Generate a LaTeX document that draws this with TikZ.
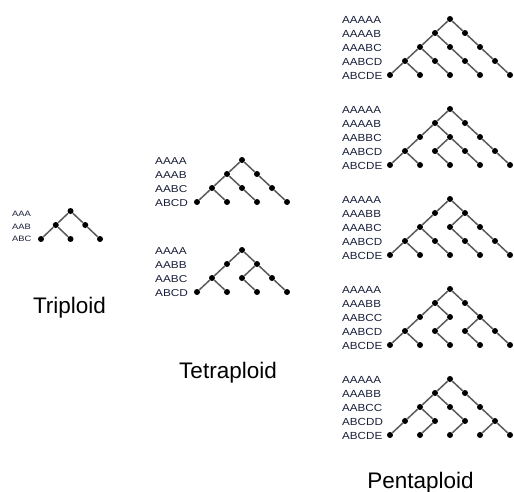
\documentclass[tikz,border=0pt]{standalone}
\usepackage{fontspec}
\setmainfont{Liberation Sans}
\definecolor{labelink}{RGB}{24,30,56}
\definecolor{branch}{RGB}{90,90,90}
\tikzset{
  dot/.style={circle,fill=black,inner sep=0pt,minimum size=6pt},
  branchline/.style={draw=branch,line width=1.5pt},
  genotype/.style={anchor=west,inner sep=0pt,text=labelink},
  ploidytitle/.style={anchor=base,inner sep=0pt,font=\fontsize{22.5}{26}\selectfont}
}
% #1 prefix, #2 root x, #3 root y, #4 half spacing of a level, #5 per-level parent offsets
% (0 = parent above right, 1 = parent above left)
\newcommand{\ploidytree}[5]{%
  \node[dot] (#1-0-0) at (#2,#3) {};
  \foreach \lev [count=\i] in {#5} {
    \foreach \o [count=\jj from 0] in \lev {
      \pgfmathtruncatemacro{\pi}{\i-1}
      \pgfmathtruncatemacro{\pj}{\jj-\o}
      \node[dot] (#1-\i-\jj) at ({#2+#4*(2*\jj-\i)},{#3+14*\i}) {};
      \draw[branchline] (#1-\pi-\pj) -- (#1-\i-\jj);
    }
  }
}
% #1 prefix, #2 x, #3 first row y, #4 row step, #5 font size, #6 horizontal stretch, #7 genotypes
\newcommand{\genorows}[7]{%
  \foreach \g [count=\r from 0] in {#7}
    \node[genotype,font=\fontsize{#5}{#5}\selectfont] (#1-\r) at (#2,{#3+#4*\r}) {\scalebox{#6}[1]{\g}};
}
\begin{document}
\begin{tikzpicture}[x=1pt,y=-1pt]
  \useasboundingbox (0,0) rectangle (514,492);

  % triploid
  \genorows{g3}{12}{214}{12.5}{7.8}{1.2}{AAA,AAB,ABC}
  \ploidytree{t3}{70.5}{211}{14.75}{{0,1},{0,1,1}}
  \node[ploidytitle] (title3) at (69.5,313) {Triploid};

  % tetraploid
  \genorows{g4a}{155}{161}{14}{10}{1.18}{AAAA,AAAB,AABC,ABCD}
  \ploidytree{t4a}{242}{160}{15}{{0,1},{0,1,1},{0,1,1,1}}
  \genorows{g4b}{155}{251}{14}{10}{1.18}{AAAA,AABB,AABC,ABCD}
  \ploidytree{t4b}{242}{250}{15}{{0,1},{0,0,1},{0,1,1,1}}
  \node[ploidytitle] (title4) at (228,378) {Tetraploid};

  % pentaploid
  \genorows{g5a}{342}{20}{14}{10.3}{1.13}{AAAAA,AAAAB,AAABC,AABCD,ABCDE}
  \ploidytree{t5a}{450}{19}{15}{{0,1},{0,1,1},{0,1,1,1},{0,1,1,1,1}}
  \genorows{g5b}{342}{110}{14}{10.3}{1.13}{AAAAA,AAAAB,AABBC,AABCD,ABCDE}
  \ploidytree{t5b}{450}{109}{15}{{0,1},{0,1,1},{0,0,1,1},{0,1,1,1,1}}
  \genorows{g5c}{342}{200}{14}{10.3}{1.13}{AAAAA,AAABB,AAABC,AABCD,ABCDE}
  \ploidytree{t5c}{450}{199}{15}{{0,1},{0,0,1},{0,1,1,1},{0,1,1,1,1}}
  \genorows{g5d}{342}{290}{14}{10.3}{1.13}{AAAAA,AAABB,AABCC,AABCD,ABCDE}
  \ploidytree{t5d}{450}{289}{15}{{0,1},{0,1,1},{0,0,0,1},{0,1,1,1,1}}
  \genorows{g5e}{342}{380}{14}{10.3}{1.13}{AAAAA,AAABB,AABCC,ABCDD,ABCDE}
  \ploidytree{t5e}{450}{379}{15}{{0,1},{0,1,1},{0,1,1,1},{0,0,0,0,1}}
  \node[ploidytitle] (title5) at (420.5,488) {Pentaploid};
\end{tikzpicture}
\end{document}
